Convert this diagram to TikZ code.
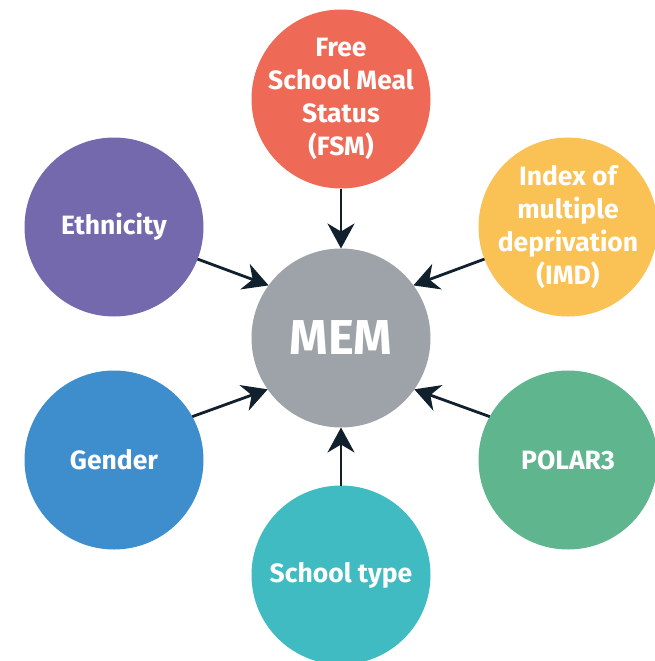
\documentclass[tikz,border=0pt]{standalone}
\usepackage{fontspec}
\setmainfont{Fira Sans}
\usetikzlibrary{arrows.meta}
\definecolor{fsmred}{HTML}{EE6A56}
\definecolor{imdyellow}{HTML}{FAC154}
\definecolor{ethpurple}{HTML}{7569AD}
\definecolor{genblue}{HTML}{3E8ECE}
\definecolor{schteal}{HTML}{3FBBC1}
\definecolor{polgreen}{HTML}{5EB58E}
\definecolor{memgrey}{HTML}{9DA3A8}
\definecolor{linknavy}{HTML}{10202D}
\begin{document}
\begin{tikzpicture}[x=1pt,y=-1pt,
    bubble/.style = {circle,minimum size=179pt,inner sep=-30pt,outer sep=0pt,text=white,
                     font=\bfseries\fontsize{26.5}{32.8}\selectfont,align=center},
    link/.style = {draw=linknavy,line width=2.8pt,
                   -{Stealth[length=25pt,width=27pt,inset=8pt]}}]
\useasboundingbox (0,0) rectangle (654,661);
\node[bubble,fill=memgrey,font=\bfseries\fontsize{49}{55}\selectfont] (mem) at (341,338) {MEM};
\foreach \n/\x/\y/\c/\t in {fsm/341/99/fsmred/{Free\\School Meal\\Status\\(FSM)},
                            imd/568/227/imdyellow/{Index of\\multiple\\deprivation\\(IMD)},
                            eth/114/227/ethpurple/{Ethnicity},
                            gen/114/460/genblue/{Gender},
                            pol/568/460/polgreen/{POLAR3},
                            sch/341/575/schteal/{School type}}
    \node[bubble,fill=\c] (\n) at (\x,\y) {\t};
\foreach \a/\b in {fsm.south/mem.north, sch.north/mem.south,
                   eth.-21/mem.144, imd.201/mem.36,
                   gen.29/mem.215, pol.151/mem.-35}
    \draw[link] (\a) -- (\b);
\end{tikzpicture}
\end{document}
